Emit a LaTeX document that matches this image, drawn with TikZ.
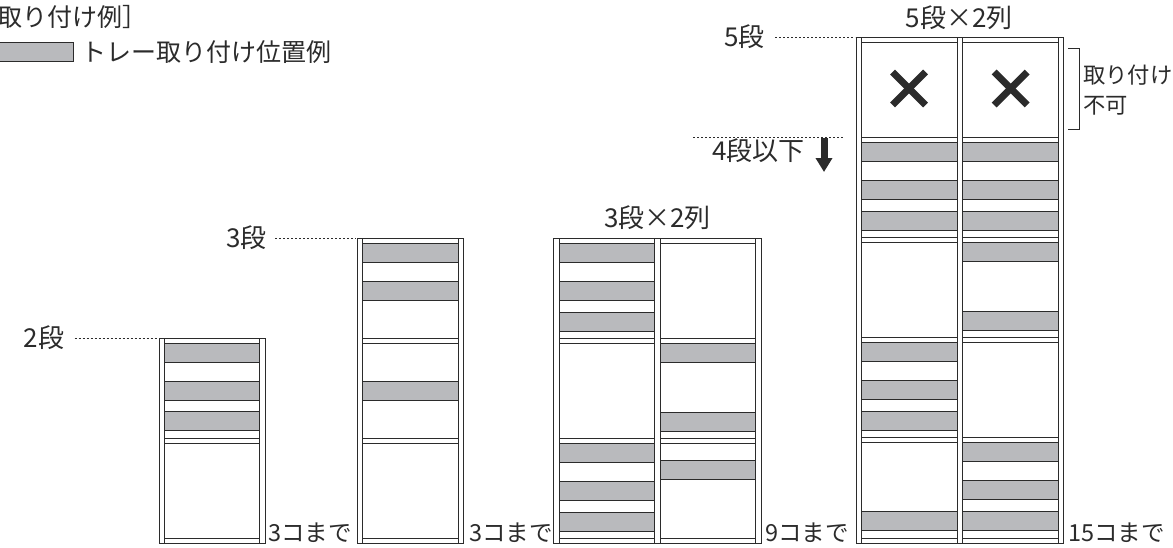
\documentclass[tikz,border=0pt]{standalone}
\usepackage{fontspec}
\setmainfont{Noto Sans CJK JP}
\usetikzlibrary{arrows.meta}
\definecolor{ink}{HTML}{2B2B2B}
\definecolor{trayc}{HTML}{B9BABD}
\tikzset{
  lab/.style={inner sep=0pt,text=ink,font=\fontsize{26}{30}\selectfont},
  cnt/.style={inner sep=0pt,text=ink,font=\fontsize{23.5}{28}\selectfont},
  frameline/.style={draw=ink,line width=1pt,fill=white},
  traybox/.style={draw=ink,line width=1pt,fill=trayc},
  leader/.style={draw=ink,line width=.8pt,dash pattern=on 2pt off 2pt},
  crossmark/.style={draw=ink,line width=7pt},
}
\newcommand{\cabpost}[4]{\draw[frameline] (#1,#3) rectangle (#2,#4);}
\newcommand{\cabshelf}[3]{\draw[frameline] (#1,#3) rectangle (#2,#3+5);}
\newcommand{\cabtray}[3]{\draw[traybox] (#1,#3) rectangle (#2,#3+19);}
\begin{document}
\begin{tikzpicture}[x=1pt,y=-1pt]
\useasboundingbox (0,0) rectangle (1173,547);
\clip (0,0) rectangle (1173,547);
% legend
\node[cnt,anchor=east,font=\fontsize{25}{29}\selectfont] (title) at (148,17) {取り付け例］};
\draw[draw=ink,line width=.8pt,fill=trayc] (-5,42.5) rectangle (73,61.5);
\node[cnt,anchor=west,font=\fontsize{25}{29}\selectfont] (legend) at (81,52) {トレー取り付け位置例};
% cabinet 1
\foreach \a/\b in {159/164,259.5/265}{\cabpost{\a}{\b}{338}{543}}
\foreach \y in {338,438,538}{\cabshelf{164}{259.5}{\y}}
\foreach \y in {343,381,411.5}{\cabtray{164}{259.5}{\y}}
% cabinet 2
\foreach \a/\b in {357/362.3,458.3/463.7}{\cabpost{\a}{\b}{238}{543}}
\foreach \y in {238,338,438,538}{\cabshelf{362.3}{458.3}{\y}}
\foreach \y in {243,281,381}{\cabtray{362.3}{458.3}{\y}}
% cabinet 3
\foreach \a/\b in {553.7/559,654.5/660,755.7/761}{\cabpost{\a}{\b}{238}{543}}
\foreach \y in {238,338,438,538}{\cabshelf{559}{654.5}{\y}\cabshelf{660}{755.7}{\y}}
\foreach \y in {243,281,312,443,481,512}{\cabtray{559}{654.5}{\y}}
\foreach \y in {343,412,460}{\cabtray{660}{755.7}{\y}}
% cabinet 4
\foreach \a/\b in {856/861.7,957.3/962.3,1058.3/1063.7}{\cabpost{\a}{\b}{37}{543}}
\foreach \y in {37,137,237,337,437,538}{\cabshelf{861.7}{957.3}{\y}\cabshelf{962.3}{1058.3}{\y}}
\foreach \y in {142,180,211,342,380,411,511}{\cabtray{861.7}{957.3}{\y}}
\foreach \y in {142,180,211,242,311,442,480,511}{\cabtray{962.3}{1058.3}{\y}}
% crosses
\foreach \c in {909,1010.7}{
  \draw[crossmark] (\c-16.5,72) -- (\c+16.5,105);
  \draw[crossmark] (\c+16.5,72) -- (\c-16.5,105);
}
% bracket
\coordinate (brA) at (1068,48.5);
\coordinate (brB) at (1068,129);
\draw[draw=ink,line width=.8pt] (brA) -| (1079,129) -- (brB);
\node[cnt,anchor=west,font=\fontsize{22.3}{28}\selectfont] (no1) at (1083,75) {取り付け};
\node[cnt,anchor=west,font=\fontsize{22.3}{26}\selectfont] (no2) at (1083,106) {不可};
% level labels
\node[lab,anchor=east] (l2) at (64.5,338) {2段};
\node[lab,anchor=east] (l3) at (267,238) {3段};
\node[lab,anchor=east] (l5) at (765,37) {5段};
\coordinate (t2) at (158,338);
\coordinate (t3) at (356,238);
\coordinate (t5) at (855,37);
\draw[leader] (l2.east)+(10,0) -- (t2);
\draw[leader] (l3.east)+(8,0) -- (t3);
\draw[leader] (l5.east)+(10,0) -- (t5);
\coordinate (s1) at (693,137);
\coordinate (s2) at (843,137);
\draw[leader] (s1) -- (s2);
\node[lab,anchor=east] (l4) at (805,151) {4段以下};
\coordinate (a1) at (824,138);
\coordinate (a2) at (824,172);
\draw[draw=ink,line width=7pt,-{Triangle[length=14pt,width=16pt]}] (a1) -- (a2);
% headings
\node[lab] (h3) at (657.5,218) {3段×2列};
\node[lab] (h5) at (959,18) {5段×2列};
% counts
\node[cnt,anchor=west] (c1) at (268,533) {3コまで};
\node[cnt,anchor=west] (c2) at (469,533) {3コまで};
\node[cnt,anchor=west] (c3) at (765,533) {9コまで};
\node[cnt,anchor=west] (c4) at (1068,533) {15コまで};
\end{tikzpicture}
\end{document}
